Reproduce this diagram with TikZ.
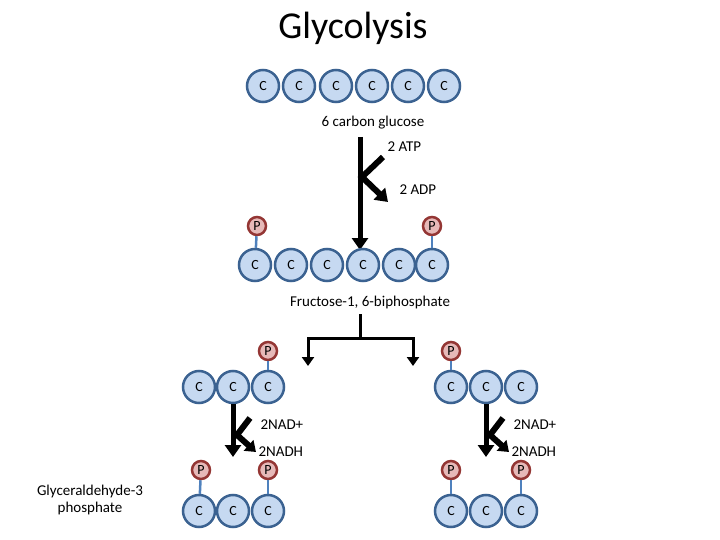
\documentclass[tikz,border=0pt]{standalone}
\usepackage{fontspec}
\setmainfont{Carlito}
\usetikzlibrary{arrows.meta}
\definecolor{cfill}{HTML}{C6D9F1}
\definecolor{cdraw}{HTML}{3B6291}
\definecolor{pfill}{HTML}{E6B9B8}
\definecolor{pdraw}{HTML}{943634}
\definecolor{link}{HTML}{4F81BD}
\begin{document}
\begin{tikzpicture}[x=1pt,y=-1pt,
  carb/.style={circle,draw=cdraw,fill=cfill,line width=2.5pt,minimum size=32pt,inner sep=0pt,font=\fontsize{14}{14}\selectfont},
  phos/.style={circle,draw=pdraw,fill=pfill,line width=2.5pt,minimum size=18pt,inner sep=0pt,font=\fontsize{14}{14}\selectfont},
  bond/.style={link,line width=2.5pt},
  thick arrow/.style={line width=5pt,-{Triangle[length=12pt,width=16pt]}},
  lbl/.style={font=\fontsize{15}{17}\selectfont}]
\useasboundingbox (0,0) rectangle (720,540);
\node[font=\fontsize{38}{40}\selectfont] (title) at (353,28) {Glycolysis};
% glucose
\foreach \i/\x in {1/263,2/299,3/336,4/372,5/408,6/444}
  \node[carb] (g\i) at (\x,86) {C};
\node[lbl] (glc) at (373,123) {6 carbon glucose};
\node[lbl,anchor=west] (atp) at (384,147) {2 ATP};
\node[lbl,anchor=west] (adp) at (396,190) {2 ADP};
\coordinate (a0) at (360,137);
\coordinate (a1) at (360,250);
\draw[thick arrow] (a0) -- (a1);
\coordinate (s0) at (383,157);
\coordinate (s1) at (362,177);
\coordinate (s2) at (388,202);
\draw[line width=6pt,-{Triangle[length=12pt,width=16pt]}] (s0) -- (s1) -- (s2);
% fructose
\foreach \i/\x in {1/255,2/291,3/327,4/363,5/399,6/432}
  \node[carb] (f\i) at (\x,265) {C};
\node[phos] (fp1) at (257,226) {P};
\node[phos] (fp6) at (432,226) {P};
\draw[bond] (fp1) -- (f1);
\draw[bond] (fp6) -- (f6);
\node[lbl] (fru) at (370,302) {Fructose-1, 6-biphosphate};
% split
\coordinate (b0) at (360,314);
\coordinate (b1) at (360,338);
\coordinate (bl) at (308,338);
\coordinate (br) at (413,338);
\coordinate (bl2) at (308,366);
\coordinate (br2) at (413,366);
\draw[line width=3pt] (b0) -- (b1);
\draw[line width=3pt,-{Triangle[length=9pt,width=12pt]}] (b1) -- (bl) -- (bl2);
\draw[line width=3pt,-{Triangle[length=9pt,width=12pt]}] (b1) -- (br) -- (br2);
% left branch
\foreach \i/\x in {1/199,2/233,3/268}
  \node[carb] (l\i) at (\x,387) {C};
\node[phos] (lp) at (268,351) {P};
\draw[bond] (lp) -- (l3);
\foreach \i/\x in {1/199,2/233,3/268}
  \node[carb] (m\i) at (\x,511) {C};
\node[phos] (mp1) at (201,470) {P};
\node[phos] (mp3) at (268,470) {P};
\draw[bond] (mp1) -- (m1);
\draw[bond] (mp3) -- (m3);
\coordinate (la0) at (233,404);
\coordinate (la1) at (233,457);
\draw[thick arrow] (la0) -- (la1);
\draw[line width=6pt,-{Triangle[length=10pt,width=14pt]}] (250,418) -- (237,435) -- (256,452);
\node[lbl,anchor=west] (nad1) at (257,425) {2NAD+};
\node[lbl,anchor=west] (nadh1) at (255,452) {2NADH};
% right branch
\foreach \i/\x in {1/451,2/486,3/521}
  \node[carb] (r\i) at (\x,387) {C};
\node[phos] (rp) at (451,351) {P};
\draw[bond] (rp) -- (r1);
\foreach \i/\x in {1/451,2/486,3/521}
  \node[carb] (n\i) at (\x,511) {C};
\node[phos] (np1) at (451,470) {P};
\node[phos] (np3) at (521,470) {P};
\draw[bond] (np1) -- (n1);
\draw[bond] (np3) -- (n3);
\coordinate (ra0) at (486,404);
\coordinate (ra1) at (486,457);
\draw[thick arrow] (ra0) -- (ra1);
\draw[line width=6pt,-{Triangle[length=10pt,width=14pt]}] (503,418) -- (490,435) -- (509,452);
\node[lbl,anchor=west] (nad2) at (510,425) {2NAD+};
\node[lbl,anchor=west] (nadh2) at (508,452) {2NADH};
% redraw circles on top for overlaps
\node[lbl,align=center] (gly) at (90,500) {Glyceraldehyde-3\\phosphate};
\end{tikzpicture}
\end{document}
